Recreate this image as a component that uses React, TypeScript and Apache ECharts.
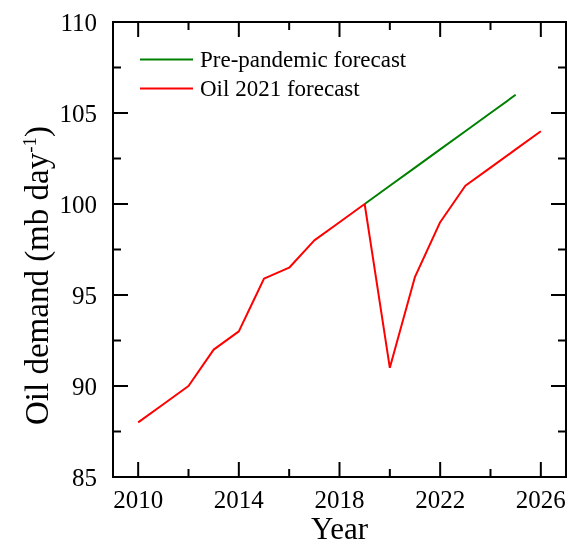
import React, { useEffect, useRef } from "react";
import * as echarts from "echarts";

const years = [2010, 2011, 2012, 2013, 2014, 2015, 2016, 2017, 2018, 2019, 2020, 2021, 2022, 2023, 2024, 2025, 2026];
const oil2021 = [88, 89, 90, 92, 93, 95.9, 96.5, 98, 99, 100, 91, 96, 99, 101, 102, 103, 104];
const preYears = [2019, 2020, 2021, 2022, 2023, 2024, 2025];
const prePandemic = [100, 101, 102, 103, 104, 105, 106];
const xMajor = [2010, 2014, 2018, 2022, 2026];
const xMinor = [2012, 2016, 2020, 2024];
const yMajor = [85, 90, 95, 100, 105, 110];
const yMinor = [87.5, 92.5, 97.5, 102.5, 107.5];

const X_MIN = 2009;
const X_MAX = 2027;
const Y_MIN = 85;
const Y_MAX = 110;
const MAJOR_LEN = 15;
const MINOR_LEN = 8;
const INK = "#000";
const FONT = "Liberation Serif";

// Inward ticks on all four sides of the frame, placed through the axes' scales.
const tickLine = (x1: number, y1: number, x2: number, y2: number) => ({
  type: "line",
  shape: { x1, y1, x2, y2 },
  style: { stroke: INK, lineWidth: 2 },
});

function renderXTick(_params: any, api: any) {
  const v = api.value(0);
  const len = api.value(1);
  const b = api.coord([v, Y_MIN]);
  const t = api.coord([v, Y_MAX]);
  return {
    type: "group",
    children: [tickLine(b[0], b[1], b[0], b[1] - len), tickLine(t[0], t[1], t[0], t[1] + len)],
  };
}

function renderYTick(_params: any, api: any) {
  const v = api.value(0);
  const len = api.value(1);
  const l = api.coord([X_MIN, v]);
  const r = api.coord([X_MAX, v]);
  return {
    type: "group",
    children: [tickLine(l[0], l[1], l[0] + len, l[1]), tickLine(r[0], r[1], r[0] - len, r[1])],
  };
}

export default function App() {
  const ref = useRef<HTMLDivElement>(null);
  useEffect(() => {
    if (!ref.current) return;
    const chart = echarts.init(ref.current, null, { renderer: "svg" });
    const xTicks = [...xMajor.map((v) => [v, MAJOR_LEN]), ...xMinor.map((v) => [v, MINOR_LEN])];
    const yTicks = [...yMajor.map((v) => [v, MAJOR_LEN]), ...yMinor.map((v) => [v, MINOR_LEN])];
    chart.setOption({
      animation: false,
      grid: {
        left: 113,
        right: 3,
        top: 22,
        bottom: 67,
        outerBoundsMode: "none",
        containLabel: false,
        show: true,
        borderColor: INK,
        borderWidth: 2,
        backgroundColor: "transparent",
      },
      legend: {
        orient: "vertical",
        left: 140,
        top: 48,
        padding: 0,
        itemWidth: 53,
        itemHeight: 2,
        itemGap: 6,
        icon: "rect",
        data: ["Pre-pandemic forecast", "Oil 2021 forecast"],
        textStyle: { fontFamily: FONT, fontSize: 23, lineHeight: 23, color: "#000", padding: [0, 0, 0, 2] },
      },
      xAxis: {
        type: "value",
        min: X_MIN,
        max: X_MAX,
        splitLine: { show: false },
        axisLine: { show: false },
        axisTick: { show: false },
        name: "Year",
        nameLocation: "middle",
        nameGap: 36,
        nameMoveOverlap: false,
        nameTextStyle: { fontFamily: FONT, fontSize: 31, color: "#000" },
        axisLabel: { show: true, margin: 10, fontFamily: FONT, fontSize: 25, color: "#000", customValues: xMajor, formatter: (v: number) => String(v) },
      },
      yAxis: {
        type: "value",
        min: Y_MIN,
        max: Y_MAX,
        interval: 5,
        splitLine: { show: false },
        axisLine: { show: false },
        axisTick: { show: false },
        axisLabel: { margin: 16, fontFamily: FONT, fontSize: 25, color: "#000", customValues: yMajor },
        name: "Oil demand (mb day{sup|-1})",
        nameLocation: "middle",
        nameGap: 60,
        nameMoveOverlap: false,
        nameRotate: 90,
        nameTextStyle: {
          fontFamily: FONT,
          fontSize: 33,
          color: "#000",
          padding: [0, 52, 0, 0],
          rich: {
            sup: { fontFamily: FONT, fontSize: 19, color: "#000", verticalAlign: "top", padding: [0, 0, 14, 0] },
          },
        },
      },
      series: [
        {
          name: "Pre-pandemic forecast",
          type: "line",
          data: preYears.map((y, i) => [y, prePandemic[i]]),
          symbol: "none",
          lineStyle: { color: "#008000", width: 2 },
          itemStyle: { color: "#008000" },
          z: 2,
        },
        {
          name: "Oil 2021 forecast",
          type: "line",
          data: years.map((y, i) => [y, oil2021[i]]),
          symbol: "none",
          lineStyle: { color: "#ff0000", width: 2 },
          itemStyle: { color: "#ff0000" },
          z: 3,
        },
        { name: "xTicks", type: "custom", silent: true, clip: false, renderItem: renderXTick, data: xTicks, z: 4 },
        { name: "yTicks", type: "custom", silent: true, clip: false, renderItem: renderYTick, data: yTicks, z: 4 },
      ],
    });
    return () => chart.dispose();
  }, []);
  return <div ref={ref} style={{ position: "fixed", left: 0, top: 0, width: 569, height: 544 }} />;
}
